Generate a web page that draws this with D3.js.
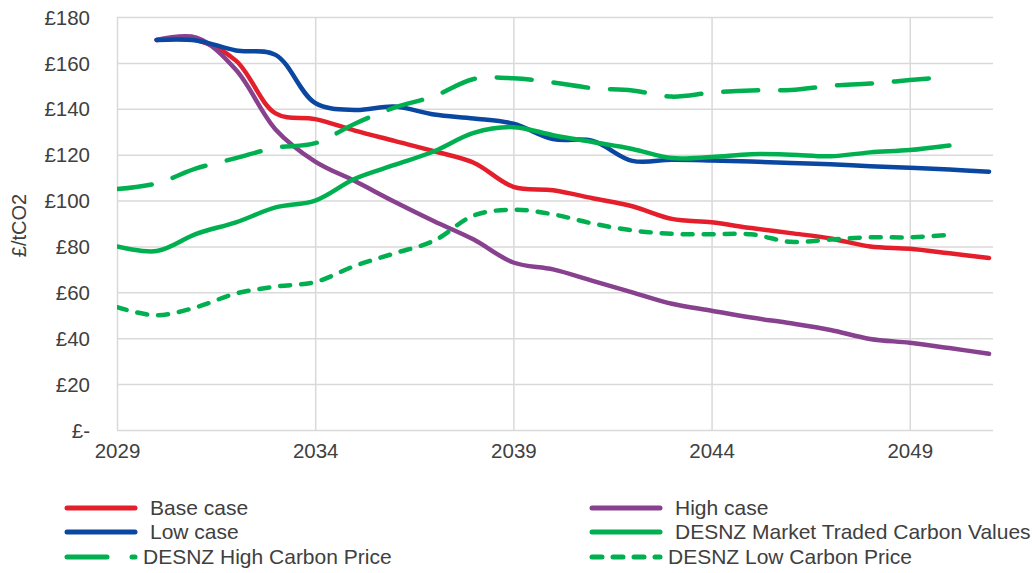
<!DOCTYPE html>
<html>
<head>
<meta charset="utf-8">
<script src="https://cdn.jsdelivr.net/npm/d3@7"></script>
<style>
  html, body { margin: 0; padding: 0; background: #fff; }
  svg { display: block; font-family: "Liberation Sans", Arial, sans-serif; }
</style>
</head>
<body>
<svg id="chart" width="1032" height="573"></svg>
<script>
// Carbon price projections, £/tCO2 by year
const years = d3.range(2029, 2052);            // 2029 … 2051
const yTicks = [0, 20, 40, 60, 80, 100, 120, 140, 160, 180];
const xTicks = [2029, 2034, 2039, 2044, 2049];

// series values (null = no value for that year)
const baseCase = [null, 170, 170, 161, 138, 135.5, 130.5, 126, 121.5, 116.5, 106, 104.5, 101, 97.5, 92, 90.5, 88, 85.8, 83.5, 80, 79, 77, 75];
const highCase = [null, 170, 171, 157, 131, 117, 108.5, 99.5, 91, 83, 73, 70, 65, 60, 55, 52, 49, 46.5, 43.6, 39.7, 38, 35.7, 33.2];
const lowCase = [null, 170, 169.8, 165.4, 163.5, 142.5, 139.5, 141, 137.5, 135.8, 133.5, 126.8, 126, 117.3, 117.8, 117.5, 117, 116.4, 115.8, 115, 114.3, 113.5, 112.6];
const marketTraded = [80, 78, 85.5, 90.5, 97, 100, 109.5, 115.5, 121.5, 129.5, 132, 128.5, 125.5, 122.5, 118.5, 119, 120.2, 120, 119.3, 121, 122, 124, null];
const highCarbon = [105, 107.5, 114, 118.5, 123, 125, 133.5, 140.5, 145.5, 153, 153.3, 151.5, 149, 148, 145.3, 147, 148, 148.2, 150, 151, 152.5, 154, null];
const lowCarbon = [53.5, 50, 53.5, 59.5, 62.5, 64.5, 71.5, 77, 82.5, 93.5, 96, 94, 90, 87, 85.5, 85.3, 85.3, 82, 83, 84, 84, 85, null];

const seriesNames = ["Base case", "High case", "Low case", "DESNZ Market Traded Carbon Values", "DESNZ High Carbon Price", "DESNZ Low Carbon Price"];
const seriesValues = [baseCase, highCase, lowCase, marketTraded, highCarbon, lowCarbon];
const seriesColors = ["#e41f2b", "#87418f", "#0a47a0", "#00b050", "#00b050", "#00b050"];
const seriesDash = [null, null, null, null, "35 22", "10 11"];

const svg = d3.select("#chart");
const margin = { left: 117, right: 39, top: 17, bottom: 143 };
const W = 1032, H = 573;

const x = d3.scaleLinear().domain([2029, 2051.1]).range([margin.left, W - margin.right]);
const y = d3.scaleLinear().domain([0, 180]).range([H - margin.bottom, margin.top]);

const textColor = "#404040";
const gridColor = "#d9d9d9";

// horizontal gridlines + y labels
const yAxis = d3.axisLeft(y)
  .tickValues(yTicks)
  .tickSize(-(x.range()[1] - x.range()[0]))
  .tickPadding(27)
  .tickFormat(d => d === 0 ? "£-" : "£" + d);
const gy = svg.append("g").attr("transform", `translate(${margin.left},0)`).call(yAxis);
gy.select(".domain").remove();
gy.selectAll(".tick line").attr("stroke", gridColor).attr("stroke-width", 1.5);
gy.selectAll(".tick text").attr("fill", textColor).style("font-size", "20.5px").attr("dy", "0.35em");

// vertical gridlines + x labels
const xAxis = d3.axisBottom(x)
  .tickValues(xTicks)
  .tickSize(-(y.range()[0] - y.range()[1]))
  .tickPadding(13)
  .tickFormat(d3.format("d"));
const gx = svg.append("g").attr("transform", `translate(0,${y(0)})`).call(xAxis);
gx.select(".domain").remove();
gx.selectAll(".tick line").attr("stroke", gridColor).attr("stroke-width", 1.5);
gx.selectAll(".tick text").attr("fill", textColor).style("font-size", "20.5px");

// y axis title
svg.append("text")
  .attr("transform", `translate(26,${(y(0) + y(180)) / 2 + 2}) rotate(-90)`)
  .attr("text-anchor", "middle")
  .attr("fill", textColor)
  .style("font-size", "20px")
  .text("£/tCO2");

// series lines
svg.append("clipPath").attr("id", "plotClip")
  .append("rect")
  .attr("x", x.range()[0]).attr("y", y.range()[1] - 10)
  .attr("width", x.range()[1] - x.range()[0]).attr("height", y.range()[0] - y.range()[1] + 10);

const line = d3.line()
  .defined(d => d.v !== null)
  .x(d => x(d.year))
  .y(d => y(d.v))
  .curve(d3.curveCatmullRom.alpha(0.5));

const plot = svg.append("g").attr("clip-path", "url(#plotClip)");
seriesValues.forEach((vals, i) => {
  const pts = years.map((yr, j) => ({ year: yr, v: vals[j] })).filter(d => d.v !== null);
  plot.append("path")
    .datum(pts)
    .attr("fill", "none")
    .attr("stroke", seriesColors[i])
    .attr("stroke-width", 4.5)
    .attr("stroke-linecap", "round")
    .attr("stroke-linejoin", "round")
    .attr("stroke-dasharray", seriesDash[i])
    .attr("d", line);
});

// legend: two columns, three rows
const legendCols = [65, 590];
const legendRows = [508, 532, 557];
const legendDash = [null, null, null, null, "40 25", "10 11"];
const legend = svg.append("g");
seriesNames.forEach((name, i) => {
  const cx = legendCols[i % 2];
  const cy = legendRows[Math.floor(i / 2)];
  legend.append("line")
    .attr("x1", cx + 2).attr("x2", cx + 70)
    .attr("y1", cy).attr("y2", cy)
    .attr("stroke", seriesColors[i])
    .attr("stroke-width", 5)
    .attr("stroke-linecap", "round")
    .attr("stroke-dasharray", legendDash[i]);
  legend.append("text")
    .attr("x", cx + (seriesDash[i] ? 78 : 85))
    .attr("y", cy)
    .attr("dy", "0.35em")
    .attr("fill", textColor)
    .style("font-size", "21px")
    .text(name);
});
</script>
</body>
</html>
